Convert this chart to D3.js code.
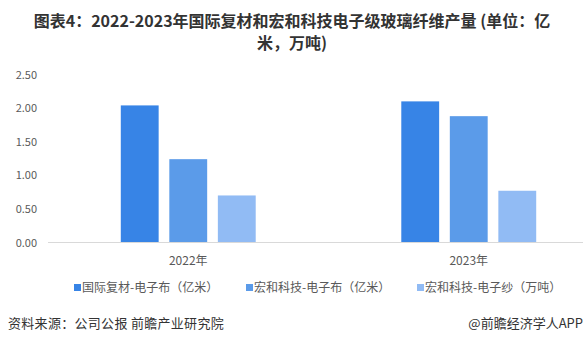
<!doctype html>
<html lang="zh">
<head>
<meta charset="utf-8">
<title>国际复材和宏和科技电子级玻璃纤维产量</title>
<style>
  body { margin: 0; background: #fff; }
  svg { display: block; font-family: "Noto Sans CJK SC", "Microsoft YaHei", sans-serif; }
</style>
</head>
<body>
<svg width="583" height="348"></svg>
<script src="https://cdn.jsdelivr.net/npm/d3@7"></script>
<script>
  var years = ['2022年', '2023年'];
  var seriesNames = ['国际复材-电子布（亿米）', '宏和科技-电子布（亿米）', '宏和科技-电子纱（万吨）'];
  var fuhecai = [2.04, 2.10];
  var honghe = [1.24, 1.88];
  var hongheSha = [0.70, 0.77];
  var yTicks = [0, 0.5, 1, 1.5, 2, 2.5];

  var series = [fuhecai, honghe, hongheSha];
  var colors = ['#3784e6', '#5b9be9', '#91bbf4'];

  var svg = d3.select('svg');

  // 标题
  var title = svg.append('text')
    .attr('text-anchor', 'middle')
    .attr('font-size', 16)
    .attr('font-weight', 'bold')
    .attr('fill', '#333');
  title.append('tspan').attr('x', 292).attr('y', 27).text('图表4：2022-2023年国际复材和宏和科技电子级玻璃纤维产量 (单位：亿');
  title.append('tspan').attr('x', 292).attr('y', 49).text('米，万吨)');

  var x0 = d3.scaleBand().domain(years).range([48, 609]);
  var x1 = d3.scaleBand().domain(d3.range(series.length))
    .range([0, x0.bandwidth()]).paddingInner(0.22).paddingOuter(1.5);
  var y = d3.scaleLinear().domain([0, 2.5]).range([242.5, 74.5]);

  // y轴刻度
  var yAxis = svg.append('g')
    .attr('transform', 'translate(37,0)')
    .call(d3.axisLeft(y).tickValues(yTicks).tickFormat(d3.format('.2f')).tickSize(0).tickPadding(0));
  yAxis.select('.domain').remove();
  yAxis.selectAll('text').attr('fill', '#595959').attr('font-size', 11)
    .attr('font-family', '"Noto Sans CJK SC", sans-serif');

  // 柱子
  years.forEach(function (yr, i) {
    svg.append('g').selectAll('rect').data(series).enter()
      .append('rect')
      .attr('x', (s, j) => x0(yr) + x1(j))
      .attr('width', x1.bandwidth())
      .attr('y', s => y(s[i]))
      .attr('height', s => y(0) - y(s[i]))
      .attr('fill', (s, j) => colors[j]);
  });

  // x轴
  svg.append('line')
    .attr('x1', 48).attr('x2', 583)
    .attr('y1', y(0)).attr('y2', y(0))
    .attr('stroke', '#d9d9d9').attr('stroke-width', 1);
  var xAxis = svg.append('g')
    .attr('transform', 'translate(0,' + y(0) + ')')
    .call(d3.axisBottom(x0).tickSize(0).tickPadding(0));
  xAxis.select('.domain').remove();
  xAxis.selectAll('text').attr('dy', 0).attr('y', 22).attr('fill', '#595959').attr('font-size', 12)
    .attr('font-family', '"Noto Sans CJK SC", sans-serif');

  // 图例
  var legendX = [74, 246, 417];
  var legend = svg.append('g').selectAll('g').data(seriesNames).enter()
    .append('g')
    .attr('transform', (d, i) => 'translate(' + legendX[i] + ',292)');
  legend.append('rect').attr('y', -8).attr('width', 7).attr('height', 7)
    .attr('fill', (d, i) => colors[i]);
  legend.append('text').attr('x', 8).attr('font-size', 12).attr('fill', '#595959').text(d => d);

  // 来源
  svg.append('text').attr('x', 8).attr('y', 328).attr('font-size', 13).attr('letter-spacing', 0.3)
    .attr('fill', '#333').text('资料来源：公司公报 前瞻产业研究院');
  svg.append('text').attr('x', 583).attr('y', 328).attr('text-anchor', 'end')
    .attr('font-size', 13).attr('fill', '#333').text('@前瞻经济学人APP');
</script>
</body>
</html>
